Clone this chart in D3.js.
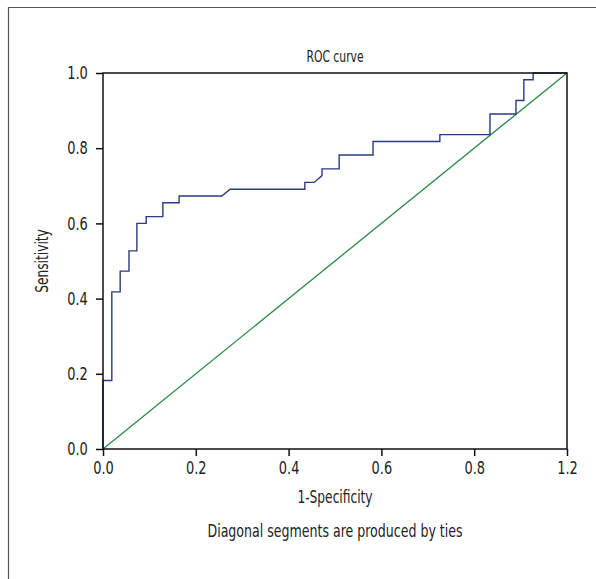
<!DOCTYPE html>
<html>
<head>
<meta charset="utf-8">
<script src="https://cdn.jsdelivr.net/npm/d3@7"></script>
<style>
  body { margin: 0; background: #fff; }
  text { font-family: "DejaVu Sans Condensed", "Liberation Sans Narrow", "Noto Sans", sans-serif; fill: #222; }
</style>
</head>
<body>
<div id="wrapper"></div>
<script>
// ROC step curve
const fpr = [0, 0, 0.019, 0.019, 0.037, 0.037, 0.056, 0.056, 0.073, 0.073, 0.093, 0.093,
  0.129, 0.129, 0.164, 0.164, 0.256, 0.274, 0.435, 0.435, 0.455, 0.472, 0.472, 0.509,
  0.509, 0.582, 0.582, 0.726, 0.726, 0.834, 0.834, 0.89, 0.89, 0.907, 0.907, 0.927, 0.927, 1]
const tpr = [0, 0.182, 0.182, 0.418, 0.418, 0.473, 0.473, 0.527, 0.527, 0.6, 0.6, 0.618,
  0.618, 0.655, 0.655, 0.673, 0.673, 0.691, 0.691, 0.709, 0.709, 0.727, 0.745, 0.745,
  0.782, 0.782, 0.818, 0.818, 0.836, 0.836, 0.891, 0.891, 0.927, 0.927, 0.982, 0.982, 1, 1]
const diagonal = [[0, 0], [1, 1]]

const xTicks = [0, 0.2, 0.4, 0.6, 0.8, 1.0]
const xTickLabels = ["0.0", "0.2", "0.4", "0.6", "0.8", "1.2"]
const yTicks = [0, 0.2, 0.4, 0.6, 0.8, 1.0]

const dimensions = {
  width: 596,
  height: 579,
  margin: { top: 73, right: 29, bottom: 130, left: 103 },
}
dimensions.boundedWidth = dimensions.width - dimensions.margin.left - dimensions.margin.right
dimensions.boundedHeight = dimensions.height - dimensions.margin.top - dimensions.margin.bottom

// the reference uses a narrow font, so squeeze text horizontally
const squeeze = 0.8

const wrapper = d3.select("#wrapper")
  .append("svg")
    .attr("width", dimensions.width)
    .attr("height", dimensions.height)

// outer frame (only left and top edges show)
wrapper.append("path")
  .attr("d", `M8.5,${dimensions.height} V7.5 H${dimensions.width}`)
  .attr("fill", "none")
  .attr("stroke", "#555")
  .attr("stroke-width", 1.2)

const bounds = wrapper.append("g")
  .attr("transform", `translate(${dimensions.margin.left},${dimensions.margin.top})`)

const xScale = d3.scaleLinear().domain([0, 1]).range([0, dimensions.boundedWidth])
const yScale = d3.scaleLinear().domain([0, 1]).range([dimensions.boundedHeight, 0])

const line = d3.line()
  .x(d => xScale(d[0]))
  .y(d => yScale(d[1]))

// reference diagonal
bounds.append("path")
  .datum(diagonal)
  .attr("d", line)
  .attr("fill", "none")
  .attr("stroke", "#2a8a45")
  .attr("stroke-width", 1.3)

// ROC curve
bounds.append("path")
  .datum(fpr.map((x, i) => [x, tpr[i]]))
  .attr("d", line)
  .attr("fill", "none")
  .attr("stroke", "#2b3b7e")
  .attr("stroke-width", 1.4)

// box
bounds.append("rect")
  .attr("width", dimensions.boundedWidth)
  .attr("height", dimensions.boundedHeight)
  .attr("fill", "none")
  .attr("stroke", "#111")
  .attr("stroke-width", 1.5)

const xAxis = bounds.append("g")
  .attr("transform", `translate(0,${dimensions.boundedHeight})`)
  .call(d3.axisBottom(xScale).tickValues(xTicks).tickFormat((d, i) => xTickLabels[i]).tickSize(7).tickPadding(5))
const yAxis = bounds.append("g")
  .call(d3.axisLeft(yScale).tickValues(yTicks).tickFormat(d3.format(".1f")).tickSize(7).tickPadding(12))

for (const ax of [xAxis, yAxis]) {
  ax.select(".domain").remove()
  ax.selectAll(".tick line").attr("stroke", "#111").attr("stroke-width", 1.5)
  ax.selectAll(".tick text")
    .style("font-size", "18px")
    .attr("fill", "#222")
    .attr("transform", `scale(${squeeze},1)`)
}

function label(x, y, size, txt, rotate) {
  bounds.append("text")
    .attr("transform", `translate(${x},${y})${rotate ? " rotate(-90)" : ""} scale(${squeeze},1)`)
    .attr("text-anchor", "middle")
    .style("font-size", size + "px")
    .text(txt)
}

label(dimensions.boundedWidth / 2, -11, 15, "ROC curve")
label(dimensions.boundedWidth / 2, dimensions.boundedHeight + 54, 17, "1-Specificity")
label(dimensions.boundedWidth / 2, dimensions.boundedHeight + 88, 17.5, "Diagonal segments are produced by ties")
label(-55, dimensions.boundedHeight / 2, 17, "Sensitivity", true)
</script>
</body>
</html>
